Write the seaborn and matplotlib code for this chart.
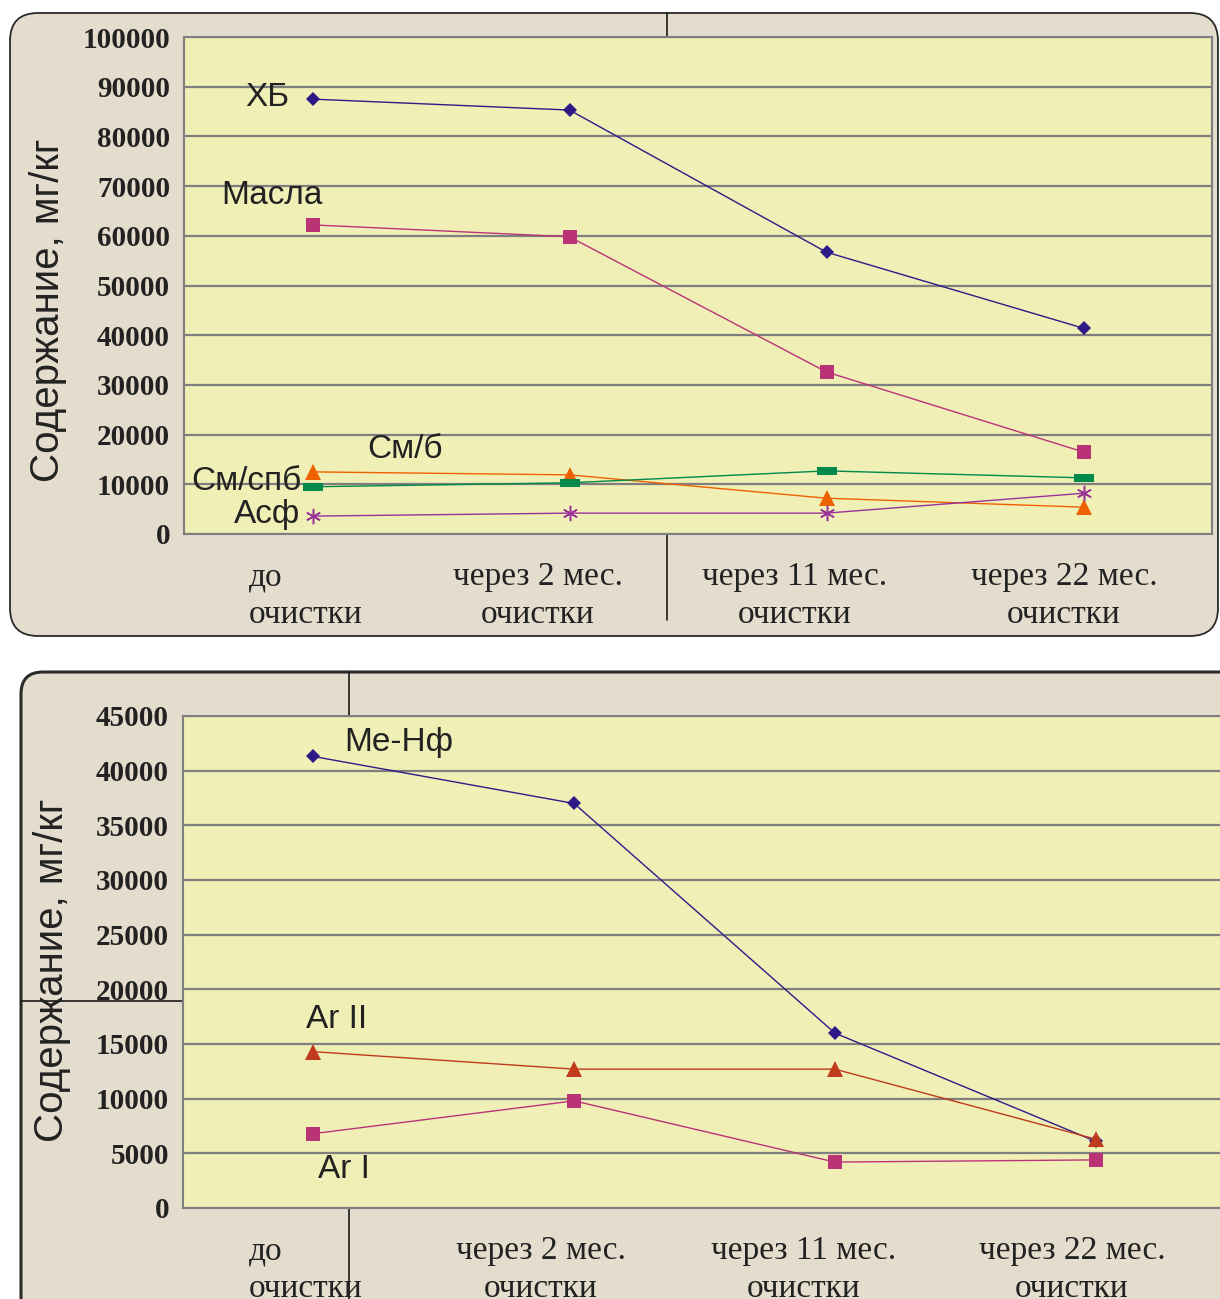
import numpy as np
import pandas as pd
import matplotlib
matplotlib.use("Agg")
import matplotlib.pyplot as plt
from matplotlib.patches import FancyBboxPatch
from matplotlib.transforms import IdentityTransform
from matplotlib.lines import Line2D
import seaborn as sns

# ---- data -------------------------------------------------------------
stages = ["до\nочистки", "через 2 мес.\nочистки", "через 11 мес.\nочистки", "через 22 мес.\nочистки"]

# upper chart (mg/kg)
hb = [87500, 85300, 56700, 41400]
masla = [62200, 59800, 32600, 16500]
sm_b = [12500, 11900, 7200, 5400]
sm_spb = [9500, 10300, 12700, 11300]
asf = [3600, 4200, 4200, 8200]
y1_ticks = list(range(0, 100001, 10000))

# lower chart (mg/kg)
me_nf = [41300, 37000, 16000, 6100]
ar_ii = [14300, 12700, 12700, 6300]
ar_i = [6800, 9800, 4200, 4400]
y2_ticks = list(range(0, 45001, 5000))

y_title = "Содержание, мг/кг"

# ---- style ------------------------------------------------------------
sns.set_style("white")
plt.rcParams["font.family"] = ["Liberation Sans", "DejaVu Sans"]

W, H = 1220, 1299
fig = plt.figure(figsize=(W / 100, H / 100), dpi=100)
fig.patch.set_facecolor("white")

PANEL = "#e4dccd"
PLOT_BG = "#f0efb6"
GRID = "#7f7f7f"
TXT = "#222222"


def fx(px):
    return px / W


def fy(py):
    return 1 - py / H


def panel(x0, y0, x1, y1, r, lw):
    p = FancyBboxPatch((x0, H - y1), x1 - x0, y1 - y0,
                       boxstyle=f"round,pad=0,rounding_size={r}",
                       transform=IdentityTransform(), facecolor=PANEL,
                       edgecolor="#2a2a2a", linewidth=lw, zorder=-10)
    fig.patches.append(p)


panel(10, 13, 1218, 636, 28, 1.3)
panel(21, 672, 1250, 1330, 22, 2.2)

# thin dark seams crossing the panels
for (x0, y0, x1, y1) in [(667, 13, 667, 37), (667, 534, 667, 620),
                         (349, 672, 349, 716), (349, 1208, 349, 1299),
                         (21, 1001, 183, 1001)]:
    fig.add_artist(Line2D([fx(x0), fx(x1)], [fy(y0), fy(y1)],
                          color="#1a1a1a", lw=1.2, zorder=-5))

dash_marker = [(-1, -0.42), (1, -0.42), (1, 0.42), (-1, 0.42), (-1, -0.42)]


def setup_axes(rect, yticks, ymax, label_pos):
    ax = fig.add_axes(rect)
    ax.set_zorder(1)
    ax.set_facecolor(PLOT_BG)
    ax.set_xlim(-0.5, 3.5)
    ax.set_ylim(0, ymax)
    ax.set_yticks(yticks)
    ax.set_yticklabels([str(v) for v in yticks], fontfamily="Liberation Serif",
                       fontweight="bold", fontsize=21, color=TXT)
    ax.yaxis.grid(True, color=GRID, lw=1.6)
    ax.set_axisbelow(True)
    ax.tick_params(axis="y", direction="out", length=6, width=1.2, color=GRID, pad=4)
    # boundary tick marks between categories
    ax.set_xticks([-0.5, 0.5, 1.5, 2.5, 3.5])
    ax.set_xticklabels([])
    ax.tick_params(axis="x", which="major", direction="out", length=7, width=1.2, color="#444444")
    ax.set_xticks(label_pos, minor=True)
    labels = ax.set_xticklabels(stages, minor=True, fontfamily="Liberation Serif",
                                fontsize=24, color=TXT, linespacing=1.3)
    labels[0].set_multialignment("left")
    ax.tick_params(axis="x", which="minor", length=0, pad=20)
    for s in ax.spines.values():
        s.set_color(GRID)
        s.set_linewidth(1.5)
    return ax


def draw(ax, vals, color, marker, ms, mew=0.0):
    sns.lineplot(x=np.arange(len(vals)), y=vals, ax=ax, color=color, lw=1.0,
                 marker=marker, markersize=ms, markeredgewidth=mew,
                 markeredgecolor=color, markerfacecolor=color, zorder=3)
    ax.set_xlabel("")
    ax.set_ylabel("")


# ---- upper chart --------------------------------------------------------
ax1 = setup_axes([fx(184), fy(534), fx(1212) - fx(184), fy(37) - fy(534)],
                 y1_ticks, 100000, [-0.025, 0.877, 1.877, 2.924])
draw(ax1, hb, "#2e1a87", "D", 7)
draw(ax1, masla, "#bb3377", "s", 10)
draw(ax1, sm_b, "#ee6100", "^", 11)
draw(ax1, sm_spb, "#00894a", dash_marker, 14)
draw(ax1, asf, "#993399", (6, 2, 0), 11, 1.1)
ax1.set_xlim(-0.5, 3.5)

for txt, x, y in [("ХБ", 267, 97), ("Масла", 272, 196), ("См/б", 405, 449),
                  ("См/спб", 246, 482), ("Асф", 267, 515)]:
    fig.text(fx(x), fy(y), txt, ha="center", va="center", fontsize=24, color=TXT, zorder=5)

fig.text(fx(48), fy(310), y_title, rotation=90, ha="center", va="center",
         fontsize=29, color=TXT)

# ---- lower chart --------------------------------------------------------
ax2 = setup_axes([fx(183), fy(1208), fx(1226) - fx(183), fy(716) - fy(1208)],
                 y2_ticks, 45000, [-0.028, 0.873, 1.882, 2.909])
draw(ax2, me_nf, "#2e1a87", "D", 7)
draw(ax2, ar_ii, "#c03a1c", "^", 11)
draw(ax2, ar_i, "#bb3377", "s", 10)
ax2.set_xlim(-0.5, 3.5)

for txt, x, y in [("Me-Нф", 399, 742), ("Ar II", 337, 1020), ("Ar I", 344, 1170)]:
    fig.text(fx(x), fy(y), txt, ha="center", va="center", fontsize=24, color=TXT, zorder=5)

fig.text(fx(52), fy(970), y_title, rotation=90, ha="center", va="center",
         fontsize=29, color=TXT)

fig.savefig("out.png", dpi=100)
